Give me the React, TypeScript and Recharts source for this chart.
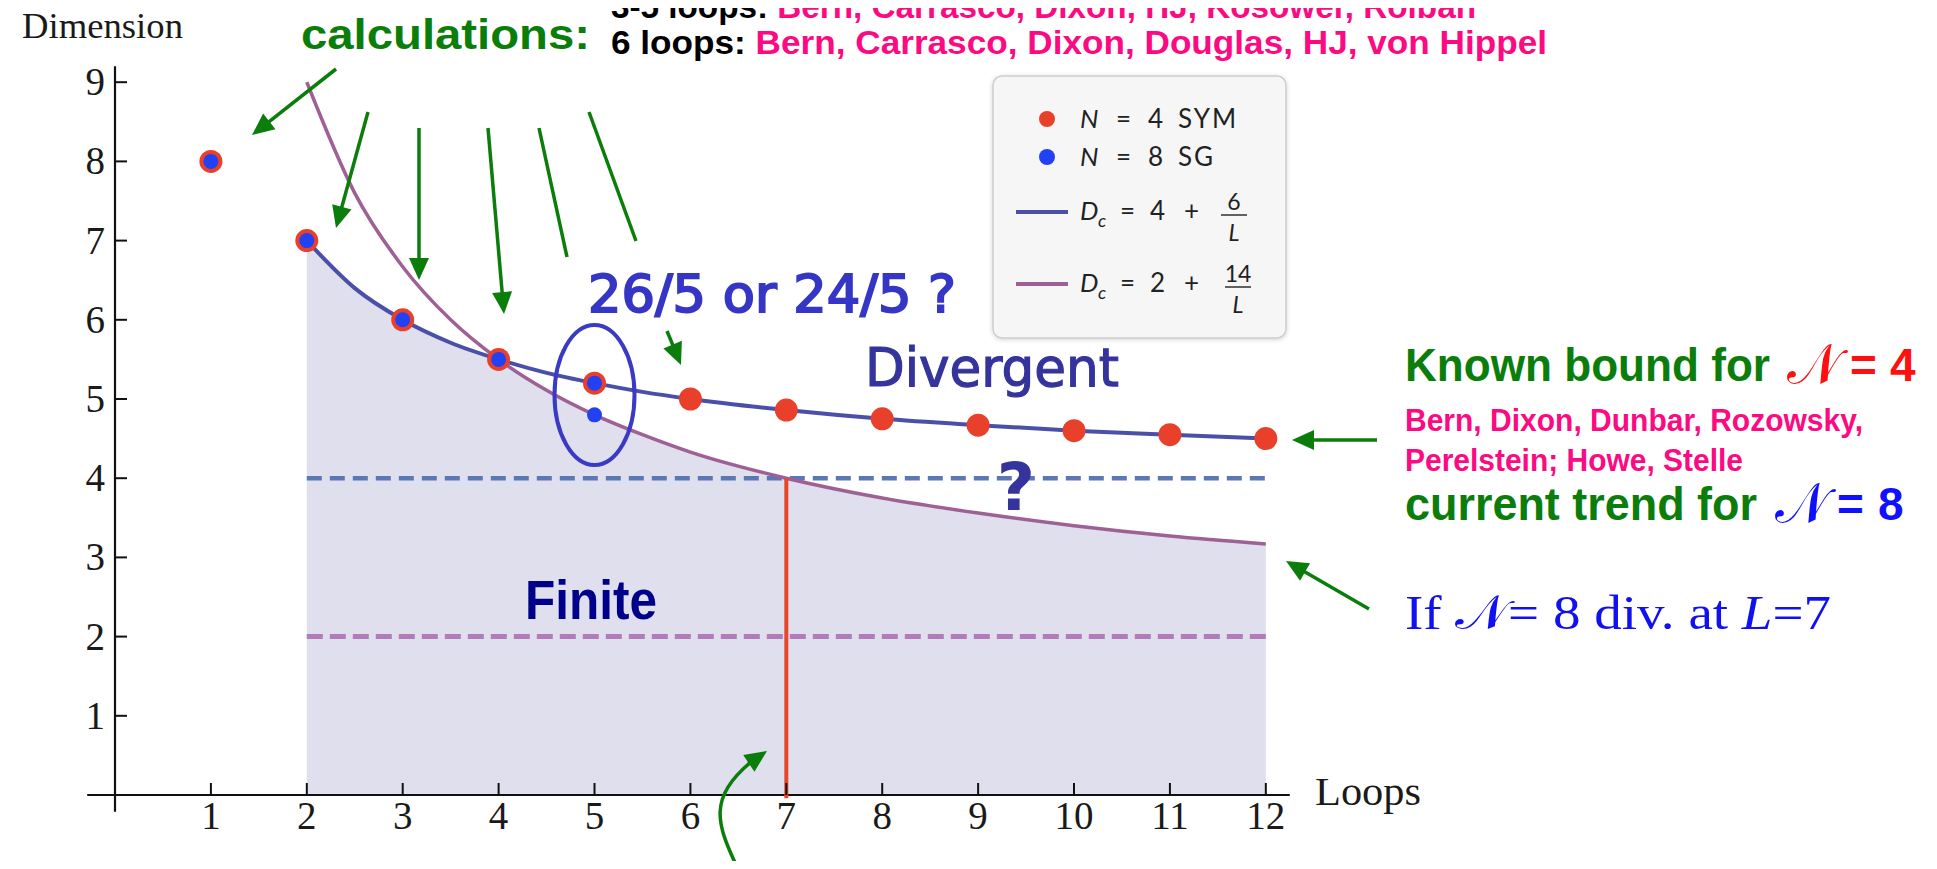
import React from 'react';
import {
  ComposedChart,
  XAxis,
  YAxis,
  Line,
  Area,
  Scatter,
  ReferenceLine,
  ReferenceDot,
} from 'recharts';

// loop orders at which the two critical-dimension curves are sampled
const curveLoops = [2, 2.5, 3, 3.5, 4, 4.5, 5, 5.5, 6, 7, 8, 9, 10, 11, 12];
// D_c = 4 + 6/L
const symBound = [7, 6.4, 6, 5.71, 5.5, 5.33, 5.2, 5.09, 5, 4.86, 4.75, 4.67, 4.6, 4.55, 4.5];
// D_c = 2 + 14/L
const sgTrend = [9, 7.6, 6.67, 6, 5.5, 5.11, 4.8, 4.55, 4.33, 4, 3.75, 3.56, 3.4, 3.27, 3.17];

// N=4 SYM critical dimensions
const symLoops = [1, 2, 3, 4, 5, 6, 7, 8, 9, 10, 11, 12];
const symDims = [8, 7, 6, 5.5, 5.2, 5, 4.86, 4.75, 4.67, 4.6, 4.55, 4.5];
// N=8 SG critical dimensions (two candidates at five loops)
const sgLoops = [1, 2, 3, 4, 5, 5];
const sgDims = [8, 7, 6, 5.5, 5.2, 4.8];

const xTicks = [1, 2, 3, 4, 5, 6, 7, 8, 9, 10, 11, 12];
const yTicks = [1, 2, 3, 4, 5, 6, 7, 8, 9];

const dimFour = 4;
const dimTwo = 2;
const divLoop = 7;
const bandStart = 2;
const bandEnd = 12;

const RED = '#e8402b';
const BLUE_DOT = '#2141f2';
const BLUE_LINE = '#4a50a8';
const PURPLE_LINE = '#9e6095';
const GREEN = '#0b7d0b';
const PINK = '#fb0a82';
const SHADE = '#dfdfed';

const SERIF = "'Liberation Serif', 'Times New Roman', serif";
const SANS = "'Liberation Sans', Arial, sans-serif";
const VERD = "'DejaVu Sans', Verdana, sans-serif";
const LEGEND_FONT = "Lato, 'Open Sans', sans-serif";
const SCRIPT_N = '\u{1D4A9}';

const toPoints = (xs: number[], ys: number[]) => xs.map((x, i) => ({ x, y: ys[i] }));

const symPoints = toPoints(symLoops, symDims);
const sgPoints = toPoints(sgLoops, sgDims);
const symCurve = toPoints(curveLoops, symBound);
const sgCurve = toPoints(curveLoops, sgTrend);
// shaded "finite" region lies under whichever curve is lower
const finiteRegion = curveLoops.map((x, i) => ({ x, y: Math.min(symBound[i], sgTrend[i]) }));

const XTick = (props: any) => {
  const { x, y, payload } = props;
  return (
    <g>
      <line x1={x} x2={x} y1={y} y2={y - 12} stroke="#111" strokeWidth={2} />
      <text x={x} y={y + 34} textAnchor="middle" fontFamily={SERIF} fontSize={39} fill="#1a1a1a">
        {payload.value}
      </text>
    </g>
  );
};

const YTick = (props: any) => {
  const { x, y, payload } = props;
  return (
    <g>
      <line x1={x} x2={x + 12} y1={y} y2={y} stroke="#111" strokeWidth={2} />
      <text x={x - 10} y={y + 13} textAnchor="end" fontFamily={SERIF} fontSize={39} fill="#1a1a1a">
        {payload.value}
      </text>
    </g>
  );
};

const dot = (r: number, fill: string) => (props: any) => (
  <circle cx={props.cx} cy={props.cy} r={r} fill={fill} />
);

const ellipseShape = (props: any) => (
  <ellipse cx={props.cx} cy={props.cy} rx={40} ry={70} fill="none" stroke="#3a3ac4" strokeWidth={4} />
);

function Arrow({ x1, y1, x2, y2, head = true }: { x1: number; y1: number; x2: number; y2: number; head?: boolean }) {
  const len = Math.hypot(x2 - x1, y2 - y1);
  const ux = (x2 - x1) / len;
  const uy = (y2 - y1) / len;
  const hl = 22;
  const hw = 10;
  const bx = x2 - ux * hl;
  const by = y2 - uy * hl;
  return (
    <g>
      <line
        x1={x1}
        y1={y1}
        x2={head ? bx + ux * 3 : x2}
        y2={head ? by + uy * 3 : y2}
        stroke={GREEN}
        strokeWidth={3.5}
      />
      {head && (
        <polygon
          points={`${x2},${y2} ${bx - uy * hw},${by + ux * hw} ${bx + uy * hw},${by - ux * hw}`}
          fill={GREEN}
        />
      )}
    </g>
  );
}

function CurvedArrow() {
  const tip = { x: 759, y: 743 };
  const c2 = { x: 712, y: 775 };
  const len = Math.hypot(tip.x - c2.x, tip.y - c2.y);
  const ux = (tip.x - c2.x) / len;
  const uy = (tip.y - c2.y) / len;
  const bx = tip.x - ux * 22;
  const by = tip.y - uy * 22;
  return (
    <g>
      <path
        d={`M730,861 C708,815 700,790 ${bx + ux * 3},${by + uy * 3}`}
        fill="none"
        stroke={GREEN}
        strokeWidth={3.5}
      />
      <polygon
        points={`${tip.x},${tip.y} ${bx - uy * 10},${by + ux * 10} ${bx + uy * 10},${by - ux * 10}`}
        fill={GREEN}
      />
    </g>
  );
}

// one legend entry: label pieces placed at fixed columns
function LegendRow({ y, value, tail }: { y: number; value: string; tail: string }) {
  return (
    <g fontFamily={LEGEND_FONT} fontSize={26} fill="#222">
      <text x={1072} y={y} fontStyle="italic">N</text>
      <text x={1108} y={y}>=</text>
      <text x={1140} y={y}>{value}</text>
      <text x={1170} y={y} letterSpacing={2}>{tail}</text>
    </g>
  );
}

function LegendFormula({ y, value, num, numX }: { y: number; value: string; num: string; numX: number }) {
  return (
    <g fontFamily={LEGEND_FONT} fontSize={26} fill="#222">
      <text x={1072} y={y} fontStyle="italic">D</text>
      <text x={1090} y={y + 7} fontStyle="italic" fontSize={18}>c</text>
      <text x={1112} y={y}>=</text>
      <text x={1142} y={y}>{value}</text>
      <text x={1176} y={y}>+</text>
      <text x={numX} y={y - 10} textAnchor="middle" fontSize={23}>{num}</text>
      <line x1={numX - 13} x2={numX + 13} y1={y - 5} y2={y - 5} stroke="#222" strokeWidth={1.4} />
      <text x={numX} y={y + 21} textAnchor="middle" fontStyle="italic" fontSize={23}>L</text>
    </g>
  );
}

function Legend() {
  return (
    <g>
      <rect x={985} y={68} width={293} height={262} rx={9} fill="#f6f6f6" stroke="#cdcdcd" strokeWidth={1.5} filter="url(#legendShadow)" />
      <circle cx={1039} cy={111} r={8} fill={RED} />
      <LegendRow y={120} value="4" tail="SYM" />
      <circle cx={1039} cy={149} r={8} fill={BLUE_DOT} />
      <LegendRow y={158} value="8" tail="SG" />
      <line x1={1008} x2={1060} y1={204} y2={204} stroke={BLUE_LINE} strokeWidth={4} />
      <LegendFormula y={212} value="4" num="6" numX={1226} />
      <line x1={1008} x2={1060} y1={276} y2={276} stroke={PURPLE_LINE} strokeWidth={4} />
      <LegendFormula y={284} value="2" num="14" numX={1230} />
    </g>
  );
}

function Annotations() {
  return (
    <svg
      width={1921}
      height={853}
      style={{ position: 'absolute', left: 0, top: 0, overflow: 'visible', pointerEvents: 'none' }}
    >
      <defs>
        <filter id="legendShadow" x="-10%" y="-10%" width="120%" height="120%">
          <feDropShadow dx={0} dy={1} stdDeviation={2} floodColor="#000" floodOpacity={0.18} />
        </filter>
      </defs>

      <text x={14} y={30} fontFamily={SERIF} fontSize={36} fill="#1a1a1a" textLength={161} lengthAdjust="spacingAndGlyphs">
        Dimension
      </text>
      <text x={1307} y={797} fontFamily={SERIF} fontSize={40} fill="#1a1a1a" textLength={106} lengthAdjust="spacingAndGlyphs">
        Loops
      </text>

      <text x={293} y={41} fontFamily={SANS} fontWeight="bold" fontSize={42} fill={GREEN} textLength={289} lengthAdjust="spacingAndGlyphs">
        calculations:
      </text>
      <text x={603} y={10} fontFamily={SANS} fontWeight="bold" fontSize={34} textLength={865} lengthAdjust="spacingAndGlyphs">
        <tspan fill="#000">3-5 loops: </tspan>
        <tspan fill={PINK}>Bern, Carrasco, Dixon, HJ, Kosower, Roiban</tspan>
      </text>
      <text x={603} y={46} fontFamily={SANS} fontWeight="bold" fontSize={34} textLength={936} lengthAdjust="spacingAndGlyphs">
        <tspan fill="#000">6 loops: </tspan>
        <tspan fill={PINK}>Bern, Carrasco, Dixon, Douglas, HJ, von Hippel</tspan>
      </text>

      <Arrow x1={328} y1={61} x2={244} y2={127} />
      <Arrow x1={360} y1={104} x2={328} y2={220} />
      <Arrow x1={411} y1={120} x2={411} y2={272} />
      <Arrow x1={480} y1={120} x2={496} y2={306} />
      <Arrow x1={531} y1={120} x2={559} y2={249} head={false} />
      <Arrow x1={581} y1={104} x2={628} y2={233} head={false} />
      <Arrow x1={659} y1={323} x2={673} y2={357} />
      <CurvedArrow />
      <Arrow x1={1369} y1={432} x2={1284} y2={432} />
      <Arrow x1={1361} y1={601} x2={1278} y2={553} />

      <text x={580} y={304} fontFamily={VERD} fontSize={51} fill="#3636c6" stroke="#3636c6" strokeWidth={2} textLength={368} lengthAdjust="spacingAndGlyphs">
        26/5 or 24/5 ?
      </text>
      <text x={857} y={378} fontFamily={VERD} fontSize={53} fill="#34349c" stroke="#34349c" strokeWidth={1.2} textLength={254} lengthAdjust="spacingAndGlyphs">
        Divergent
      </text>
      <text x={1008} y={502} textAnchor="middle" fontFamily={VERD} fontWeight="bold" fontSize={66} fill="#34349c">
        ?
      </text>
      <text x={517} y={611} fontFamily={SANS} fontWeight="bold" fontSize={55} fill="#00008b" textLength={132} lengthAdjust="spacingAndGlyphs">
        Finite
      </text>

      <text x={1397} y={373} fontFamily={SANS} fontWeight="bold" fontSize={46} fill={GREEN} textLength={365} lengthAdjust="spacingAndGlyphs">
        Known bound for
      </text>
      <text x={1779} y={375} fontFamily={SERIF} fontSize={56} fill="#ff1010">{SCRIPT_N}</text>
      <text x={1842} y={373} fontFamily={SANS} fontWeight="bold" fontSize={46} fill="#ff1010">=</text>
      <text x={1882} y={373} fontFamily={SANS} fontWeight="bold" fontSize={46} fill="#ff1010">4</text>

      <text x={1397} y={423} fontFamily={SANS} fontWeight="bold" fontSize={32} fill={PINK} textLength={458} lengthAdjust="spacingAndGlyphs">
        Bern, Dixon, Dunbar, Rozowsky,
      </text>
      <text x={1397} y={463} fontFamily={SANS} fontWeight="bold" fontSize={32} fill={PINK} textLength={338} lengthAdjust="spacingAndGlyphs">
        Perelstein; Howe, Stelle
      </text>

      <text x={1397} y={512} fontFamily={SANS} fontWeight="bold" fontSize={46} fill={GREEN} textLength={352} lengthAdjust="spacingAndGlyphs">
        current trend for
      </text>
      <text x={1767} y={514} fontFamily={SERIF} fontSize={56} fill="#1010ff">{SCRIPT_N}</text>
      <text x={1829} y={512} fontFamily={SANS} fontWeight="bold" fontSize={46} fill="#1010ff">=</text>
      <text x={1870} y={512} fontFamily={SANS} fontWeight="bold" fontSize={46} fill="#1010ff">8</text>

      <text x={1397} y={621} fontFamily={SERIF} fontSize={48} fill="#1010f0" textLength={426} lengthAdjust="spacingAndGlyphs">
        If <tspan>{SCRIPT_N}</tspan>= 8 div. at <tspan fontStyle="italic">L</tspan>=7
      </text>

      <Legend />
    </svg>
  );
}

export default function App() {
  return (
    <div style={{ position: 'relative', width: 1921, height: 853 }}>
      <ComposedChart
        width={1921}
        height={853}
        margin={{ top: 58.36, right: 639.2, bottom: 26, left: 67 }}
      >
        <XAxis
          dataKey="x"
          type="number"
          domain={[0, 12.25]}
          ticks={xTicks}
          interval={0}
          allowDataOverflow
          axisLine={false}
          tickLine={false}
          tickSize={0}
          tickMargin={0}
          height={40}
          tick={XTick}
        />
        <YAxis
          dataKey="y"
          type="number"
          domain={[0, 9.2]}
          ticks={yTicks}
          interval={0}
          allowDataOverflow
          axisLine={false}
          tickLine={false}
          tickSize={0}
          tickMargin={0}
          width={40}
          tick={YTick}
        />

        <Area
          data={finiteRegion}
          dataKey="y"
          type="monotone"
          fill={SHADE}
          fillOpacity={1}
          stroke="none"
          isAnimationActive={false}
        />

        <ReferenceLine
          segment={[{ x: bandStart, y: dimFour }, { x: bandEnd, y: dimFour }]}
          stroke="#5b78b5"
          strokeWidth={4.5}
          strokeDasharray="15 8"
        />
        <ReferenceLine
          segment={[{ x: bandStart, y: dimTwo }, { x: bandEnd, y: dimTwo }]}
          stroke="#b27cbb"
          strokeWidth={5}
          strokeDasharray="16 7"
        />

        <ReferenceLine
          segment={[{ x: -0.29, y: 0 }, { x: 12.25, y: 0 }]}
          stroke="#111"
          strokeWidth={2.2}
          ifOverflow="visible"
        />
        <ReferenceLine
          segment={[{ x: 0, y: -0.21 }, { x: 0, y: 9.2 }]}
          stroke="#111"
          strokeWidth={2.2}
          ifOverflow="visible"
        />

        <Line
          data={symCurve}
          dataKey="y"
          type="monotone"
          stroke={BLUE_LINE}
          strokeWidth={4}
          dot={false}
          activeDot={false}
          isAnimationActive={false}
        />
        <Line
          data={sgCurve}
          dataKey="y"
          type="monotone"
          stroke={PURPLE_LINE}
          strokeWidth={3.5}
          dot={false}
          activeDot={false}
          isAnimationActive={false}
        />

        <ReferenceLine
          segment={[{ x: divLoop, y: -0.04 }, { x: divLoop, y: dimFour }]}
          stroke="#e8462b"
          strokeWidth={4}
          ifOverflow="visible"
        />

        <ReferenceDot x={5} y={5.05} shape={ellipseShape} />

        <Scatter data={symPoints} shape={dot(11.5, RED)} isAnimationActive={false} />
        <Scatter data={sgPoints} shape={dot(7.5, BLUE_DOT)} isAnimationActive={false} />
      </ComposedChart>
      <Annotations />
    </div>
  );
}
